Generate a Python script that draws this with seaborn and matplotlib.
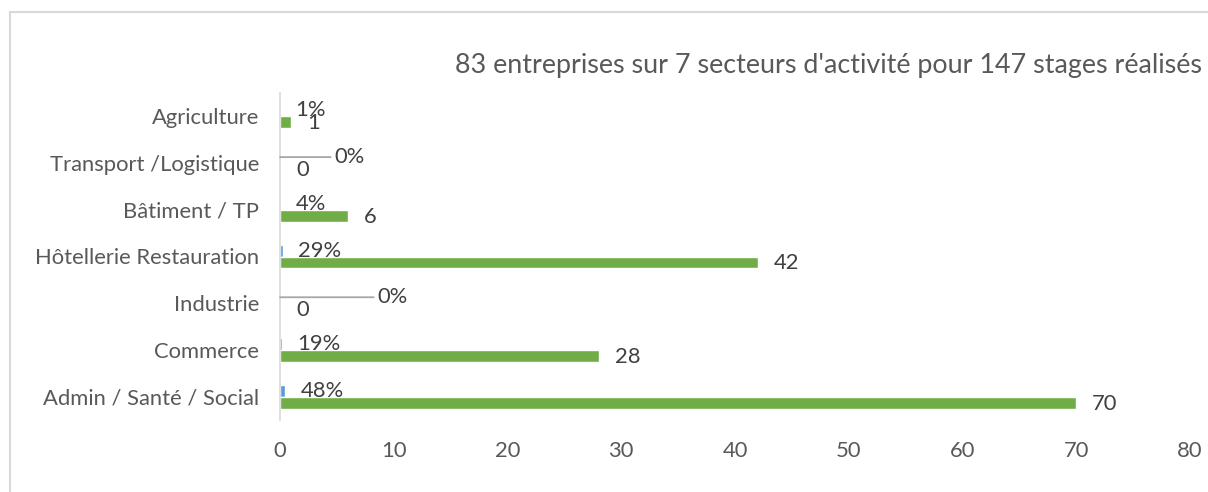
import matplotlib
import numpy as np
import pandas as pd
import matplotlib.pyplot as plt
import seaborn as sns
from matplotlib.patches import Rectangle

matplotlib.use("Agg")

secteurs = [
    "Agriculture",
    "Transport /Logistique",
    "Bâtiment / TP",
    "Hôtellerie Restauration",
    "Industrie",
    "Commerce",
    "Admin / Santé / Social",
]
nb_stages = [1, 0, 6, 42, 0, 28, 70]
part_stages = [0.01, 0.00, 0.04, 0.29, 0.00, 0.19, 0.48]
x_ticks = [0, 10, 20, 30, 40, 50, 60, 70, 80]
titre = "83 entreprises sur 7 secteurs d'activité pour 147 stages réalisés"

BLEU = "#5B9BD5"
VERT = "#70AD47"
GRIS_TXT = "#595959"
GRIS_LBL = "#404040"
GRIS_LIGNE = "#d9d9d9"

TAILLE = 15.8


def plot_secteurs():
    df = pd.DataFrame({
        "secteur": secteurs * 2,
        "serie": ["Part"] * len(secteurs) + ["Nombre"] * len(secteurs),
        "valeur": part_stages + nb_stages,
    })

    sns.set_style("white")
    plt.rcParams["font.family"] = ["Lato", "DejaVu Sans"]

    fig = plt.figure(figsize=(12.08, 4.92), dpi=100)
    ax = fig.add_axes([280 / 1208, 72 / 492, 910 / 1208, 327 / 492])

    sns.barplot(data=df, x="valeur", y="secteur", hue="serie", orient="h",
                palette=[BLEU, VERT], saturation=1, width=0.51,
                legend=False, ax=ax)

    ax.set_xlim(0, 80)
    ax.set_ylim(len(secteurs) - 0.5, -0.5)
    ax.set_xticks(x_ticks)
    ax.set_xlabel("")
    ax.set_ylabel("")

    for side in ["top", "right", "bottom"]:
        ax.spines[side].set_visible(False)
    ax.spines["left"].set_color(GRIS_LIGNE)
    ax.spines["left"].set_linewidth(1.2)

    ax.tick_params(axis="y", which="major", length=0, pad=15,
                   labelsize=TAILLE, labelcolor=GRIS_TXT)
    ax.tick_params(axis="x", which="major", length=0, pad=15,
                   labelsize=TAILLE, labelcolor=GRIS_TXT)
    ax.set_yticks(np.arange(-0.5, len(secteurs), 1), minor=True)
    ax.tick_params(axis="y", which="minor", length=6, width=1.2,
                   color=GRIS_LIGNE)

    # etiquettes : pourcentages sur les barres bleues, nombres sur les vertes
    # deux etiquettes 0% deplacees avec trait de rappel
    rappels = {1: 54, 4: 97}
    for i, bar in enumerate(ax.containers[0]):
        y = bar.get_y() + bar.get_height() / 2
        x = bar.get_width()
        txt = f"{part_stages[i]:.0%}"
        if i in rappels:
            ax.annotate(txt, xy=(x, y), xytext=(rappels[i], 0),
                        textcoords="offset pixels", ha="left", va="center",
                        fontsize=TAILLE, color=GRIS_LBL,
                        arrowprops=dict(arrowstyle="-", color="#a6a6a6",
                                        lw=1.3, shrinkA=0, shrinkB=0,
                                        relpos=(0, 0.5)))
        else:
            ax.annotate(txt, xy=(x, y), xytext=(15, 0),
                        textcoords="offset pixels", ha="left", va="center",
                        fontsize=TAILLE, color=GRIS_LBL)
    for i, bar in enumerate(ax.containers[1]):
        y = bar.get_y() + bar.get_height() / 2
        x = bar.get_width()
        ax.annotate(str(nb_stages[i]), xy=(x, y), xytext=(16, -1),
                    textcoords="offset pixels", ha="left", va="center",
                    fontsize=TAILLE, color=GRIS_LBL)

    fig.text(1202 / 1208, 1 - 66 / 492, titre, ha="right", va="center",
             fontsize=19.4, color=GRIS_TXT)

    cadre = Rectangle((9.5 / 1208, -0.2), 1.5, 1 + 0.2 - 12 / 492,
                      transform=fig.transFigure, fill=False,
                      edgecolor=GRIS_LIGNE, linewidth=1.5)
    fig.patches.append(cadre)

    fig.savefig("out.png", dpi=100)


if __name__ == "__main__":
    plot_secteurs()
